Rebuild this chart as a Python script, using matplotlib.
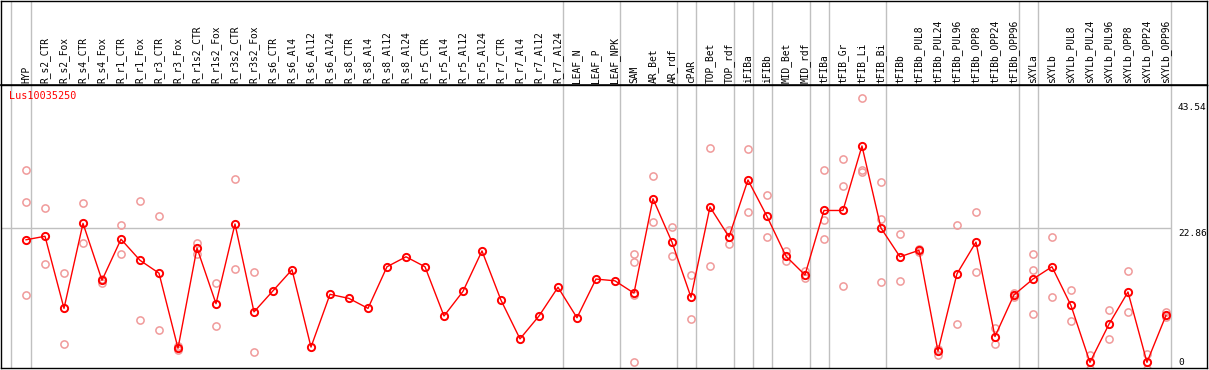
import numpy as np
import matplotlib
matplotlib.use('Agg')
import matplotlib.pyplot as plt
import matplotlib.transforms as mtransforms

# categories along the x axis
samples = ['HYP', 'R_s2_CTR', 'R_s2_Fox', 'R_s4_CTR', 'R_s4_Fox', 'R_r1_CTR', 'R_r1_Fox',
           'R_r3_CTR', 'R_r3_Fox', 'R_r1s2_CTR', 'R_r1s2_Fox', 'R_r3s2_CTR', 'R_r3s2_Fox',
           'R_s6_CTR', 'R_s6_Al4', 'R_s6_Al12', 'R_s6_Al24', 'R_s8_CTR', 'R_s8_Al4',
           'R_s8_Al12', 'R_s8_Al24', 'R_r5_CTR', 'R_r5_Al4', 'R_r5_Al12', 'R_r5_Al24',
           'R_r7_CTR', 'R_r7_Al4', 'R_r7_Al12', 'R_r7_Al24', 'LEAF_N', 'LEAF_P', 'LEAF_NPK',
           'SAM', 'AR_Bet', 'AR_rdf', 'cPAR', 'TOP_Bet', 'TOP_rdf', 'iFIBa', 'iFIBb',
           'MID_Bet', 'MID_rdf', 'tFIBa', 'tFIB_Gr', 'tFIB_Li', 'tFIB_Bi', 'tFIBb',
           'tFIBb_PUL8', 'tFIBb_PUL24', 'tFIBb_PUL96', 'tFIBb_OPP8', 'tFIBb_OPP24',
           'tFIBb_OPP96', 'sXYLa', 'sXYLb', 'sXYLb_PUL8', 'sXYLb_PUL24', 'sXYLb_PUL96',
           'sXYLb_OPP8', 'sXYLb_OPP24', 'sXYLb_OPP96']

# mean expression per sample (red line)
means = [20.9, 21.5, 9.2, 23.7, 14.0, 21.0, 17.4, 15.2, 2.4, 19.5, 10.0, 23.6, 8.6,
         12.2, 15.8, 2.6, 11.6, 10.9, 9.2, 16.3, 18.0, 16.3, 7.9, 12.1, 19.0,
         10.6, 4.0, 7.9, 12.8, 7.6, 14.2, 13.9,
         11.8, 27.9, 20.5, 11.1, 26.5, 21.4, 31.1, 24.9, 18.1, 14.9,
         25.9, 25.9, 36.9, 22.9, 18.0,
         19.1, 1.9, 15.1, 20.5, 4.4, 11.5,
         14.2, 16.3, 9.7, 0.0, 6.5, 12.0, 0.0, 8.0]

# individual replicates (light circles)
replicates = [[32.8, 27.3, 11.4], [26.4, 16.8], [15.2, 3.2], [27.2, 20.3], [13.5, 14.2],
              [23.5, 18.5], [27.6, 7.3], [24.9, 5.5], [2.7, 2.1], [20.4, 18.4],
              [13.5, 6.2], [31.2, 16.0], [15.4, 1.7],
              [], [], [], [], [], [], [], [], [], [], [], [], [], [], [], [], [], [], [],
              [18.5, 17.1, 11.5, 0.0], [31.7, 23.9], [23.1, 18.1], [14.9, 7.4],
              [36.5, 16.4], [22.6, 20.1], [36.3, 25.6], [28.5, 21.3], [19.0, 17.3],
              [15.5, 14.4], [32.8, 24.2, 21.0], [34.6, 30.0, 13.0], [45.0, 32.8, 32.5],
              [30.7, 24.4, 13.7], [21.9, 13.9],
              [18.9, 19.3], [2.3, 1.3], [23.5, 6.6], [25.6, 15.4], [5.8, 3.1],
              [11.9, 11.2], [18.5, 15.7, 8.2], [21.4, 11.1], [12.4, 7.1],
              [1.2, -1.1], [8.9, 3.9], [15.5, 8.5], [1.4, -1.1], [8.5, 7.7]]

separators = [-0.77, 0.25, 28.25, 31.25, 34.25, 35.25, 37.25, 38.25, 39.25,
              41.25, 42.25, 45.25, 52.25, 53.25, 60.25]
gene = 'Lus10035250'
ymax_label = 43.54
ymid_label = 22.86

W, H = 1209, 370
fig = plt.figure(figsize=(W / 100, H / 100), dpi=100)
top_px = 85
bot_px = 368.3
ax = fig.add_axes([1 / W, (H - bot_px) / H, 1206 / W, (bot_px - top_px) / H])
axl = fig.add_axes([1 / W, (H - top_px) / H, 1206 / W, (top_px - 0.5) / H])

x = np.arange(len(samples))
xlim = (-1.316, 62.16)
grey = '#c0c0c0'

for a in (ax, axl):
    a.set_xlim(xlim)
    a.set_xticks([])
    a.set_yticks([])
    for s in a.spines.values():
        s.set_linewidth(1.0)
        s.set_color('black')
    for sx in separators:
        a.axvline(sx, color=grey, lw=1.0, zorder=0)

axl.set_ylim(0, 1)
axl.spines['bottom'].set_linewidth(1.2)

# sample labels
for i, name in enumerate(samples):
    axl.text(i, 0.025, name, rotation=90, ha='center', va='bottom',
             fontsize=6.9, family='DejaVu Sans Mono', color='black')

ax.set_ylim(-1.02, 47.3)
ax.hlines(ymid_label, xlim[0], 60.25, color=grey, lw=1.0, zorder=0)

# replicates
rx = []
ry = []
for i, reps in enumerate(replicates):
    for r in reps:
        rx.append(i)
        ry.append(r)
ax.plot(rx, ry, 'o', mfc='none', mec='#f09a9a', ms=5.2, mew=1.1, zorder=2)

# means
ax.plot(x, means, '-', color='red', lw=1.0, zorder=3)
ax.plot(x, means, 'o', mfc='none', mec='red', ms=5.2, mew=1.4, zorder=4)

ax.text(-0.9, 45.4, gene, color='red', fontsize=7.3, family='DejaVu Sans Mono',
        ha='left', va='center')

trans = mtransforms.blended_transform_factory(fig.transFigure, ax.transData)
ax.text(1178 / W, ymax_label, '%.2f' % ymax_label, transform=trans, ha='left', va='center',
        fontsize=6.8, family='DejaVu Sans Mono')
ax.text(1178 / W, ymid_label - 0.1, '%.2f' % ymid_label, transform=trans, ha='left', va='top',
        fontsize=6.8, family='DejaVu Sans Mono')
ax.text(1178 / W, 0, '0', transform=trans, ha='left', va='center',
        fontsize=6.8, family='DejaVu Sans Mono')

fig.savefig('out.png', dpi=100)
